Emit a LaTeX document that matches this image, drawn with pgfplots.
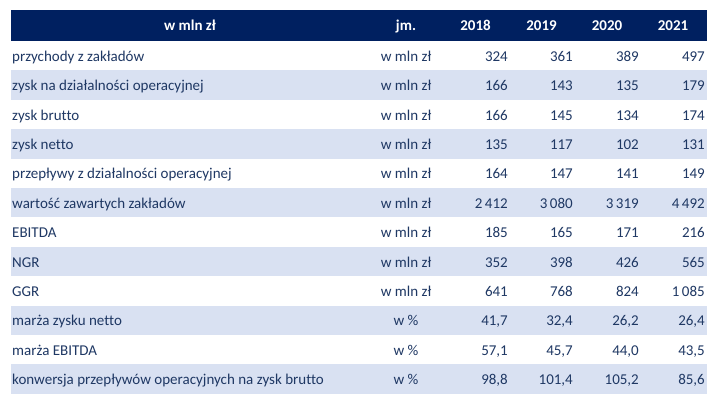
\documentclass[border=0pt]{standalone}
\usepackage{fontspec}
\setmainfont{Carlito}[Ligatures=NoCommon]
\usepackage{pgfplots}
\pgfplotsset{compat=1.18}
\definecolor{hdr}{HTML}{002060}
\definecolor{shade}{HTML}{D9E1F2}
\definecolor{txt}{HTML}{1F3864}
\pgfplotsset{
  cell/.style={draw=none, mark=none, nodes near coords, point meta=explicit symbolic,
    nodes near coords align={#1},
    nodes near coords style={inner sep=0pt, font=\fontsize{15bp}{17bp}\selectfont, text=txt, yshift=-5.5bp}},
  hcell/.style={draw=none, mark=none, nodes near coords, point meta=explicit symbolic,
    nodes near coords align={#1},
    nodes near coords style={inner sep=0pt, font=\fontsize{15bp}{17bp}\selectfont\bfseries, text=white, yshift=-5.5bp}},
}
\begin{document}
\begin{tikzpicture}
\begin{axis}[
  width=720bp, height=405bp, scale only axis,
  xmin=0, xmax=720, ymin=0, ymax=405, y dir=reverse,
  hide axis, clip=false,
]
\addplot[fill=white, draw=none] coordinates {(0,0) (720,0) (720,405) (0,405)} -- cycle;
% header
\addplot[fill=hdr, draw=none] coordinates {(11,10) (707,10) (707,41) (11,41)} -- cycle;
% shaded rows (2,4,...,12)
\addplot[fill=shade, draw=none] coordinates {(11,70.4) (707,70.4) (707,99.8) (11,99.8)} -- cycle;
\addplot[fill=shade, draw=none] coordinates {(11,129.2) (707,129.2) (707,158.6) (11,158.6)} -- cycle;
\addplot[fill=shade, draw=none] coordinates {(11,188.0) (707,188.0) (707,217.4) (11,217.4)} -- cycle;
\addplot[fill=shade, draw=none] coordinates {(11,246.8) (707,246.8) (707,276.2) (11,276.2)} -- cycle;
\addplot[fill=shade, draw=none] coordinates {(11,305.6) (707,305.6) (707,335.0) (11,335.0)} -- cycle;
\addplot[fill=shade, draw=none] coordinates {(11,364.4) (707,364.4) (707,393.8) (11,393.8)} -- cycle;
% header texts
\addplot[hcell={anchor=base}] table[col sep=semicolon, meta=t] {
x;y;t
190;25.5;w mln zł
406;25.5;jm.
475.5;25.5;2018
541.5;25.5;2019
607;25.5;2020
673;25.5;2021
};
% row labels
\addplot[cell={anchor=base west}] table[col sep=semicolon, meta=t] {
x;y;t
12;55.7;przychody z zakładów
12;85.1;zysk na działalności operacyjnej
12;114.5;zysk brutto
12;143.9;zysk netto
12;173.3;przepływy z działalności operacyjnej
12;202.7;wartość zawartych zakładów
12;232.1;EBITDA
12;261.5;NGR
12;290.9;GGR
12;320.3;marża zysku netto
12;349.7;marża EBITDA
12;379.1;konwersja przepływów operacyjnych na zysk brutto
};
% units
\addplot[cell={anchor=base}] table[col sep=semicolon, meta=t] {
x;y;t
406;55.7;w mln zł
406;85.1;w mln zł
406;114.5;w mln zł
406;143.9;w mln zł
406;173.3;w mln zł
406;202.7;w mln zł
406;232.1;w mln zł
406;261.5;w mln zł
406;290.9;w mln zł
406;320.3;w \%
406;349.7;w \%
406;379.1;w \%
};
% 2018
\addplot[cell={anchor=base east}] table[col sep=semicolon, meta=t] {
x;y;t
508;55.7;324
508;85.1;166
508;114.5;166
508;143.9;135
508;173.3;164
508;202.7;2\,412
508;232.1;185
508;261.5;352
508;290.9;641
508;320.3;41,7
508;349.7;57,1
508;379.1;98,8
};
% 2019
\addplot[cell={anchor=base east}] table[col sep=semicolon, meta=t] {
x;y;t
573;55.7;361
573;85.1;143
573;114.5;145
573;143.9;117
573;173.3;147
573;202.7;3\,080
573;232.1;165
573;261.5;398
573;290.9;768
573;320.3;32,4
573;349.7;45,7
573;379.1;101,4
};
% 2020
\addplot[cell={anchor=base east}] table[col sep=semicolon, meta=t] {
x;y;t
639;55.7;389
639;85.1;135
639;114.5;134
639;143.9;102
639;173.3;141
639;202.7;3\,319
639;232.1;171
639;261.5;426
639;290.9;824
639;320.3;26,2
639;349.7;44,0
639;379.1;105,2
};
% 2021
\addplot[cell={anchor=base east}] table[col sep=semicolon, meta=t] {
x;y;t
705;55.7;497
705;85.1;179
705;114.5;174
705;143.9;131
705;173.3;149
705;202.7;4\,492
705;232.1;216
705;261.5;565
705;290.9;1\,085
705;320.3;26,4
705;349.7;43,5
705;379.1;85,6
};
\end{axis}
\end{tikzpicture}
\end{document}
